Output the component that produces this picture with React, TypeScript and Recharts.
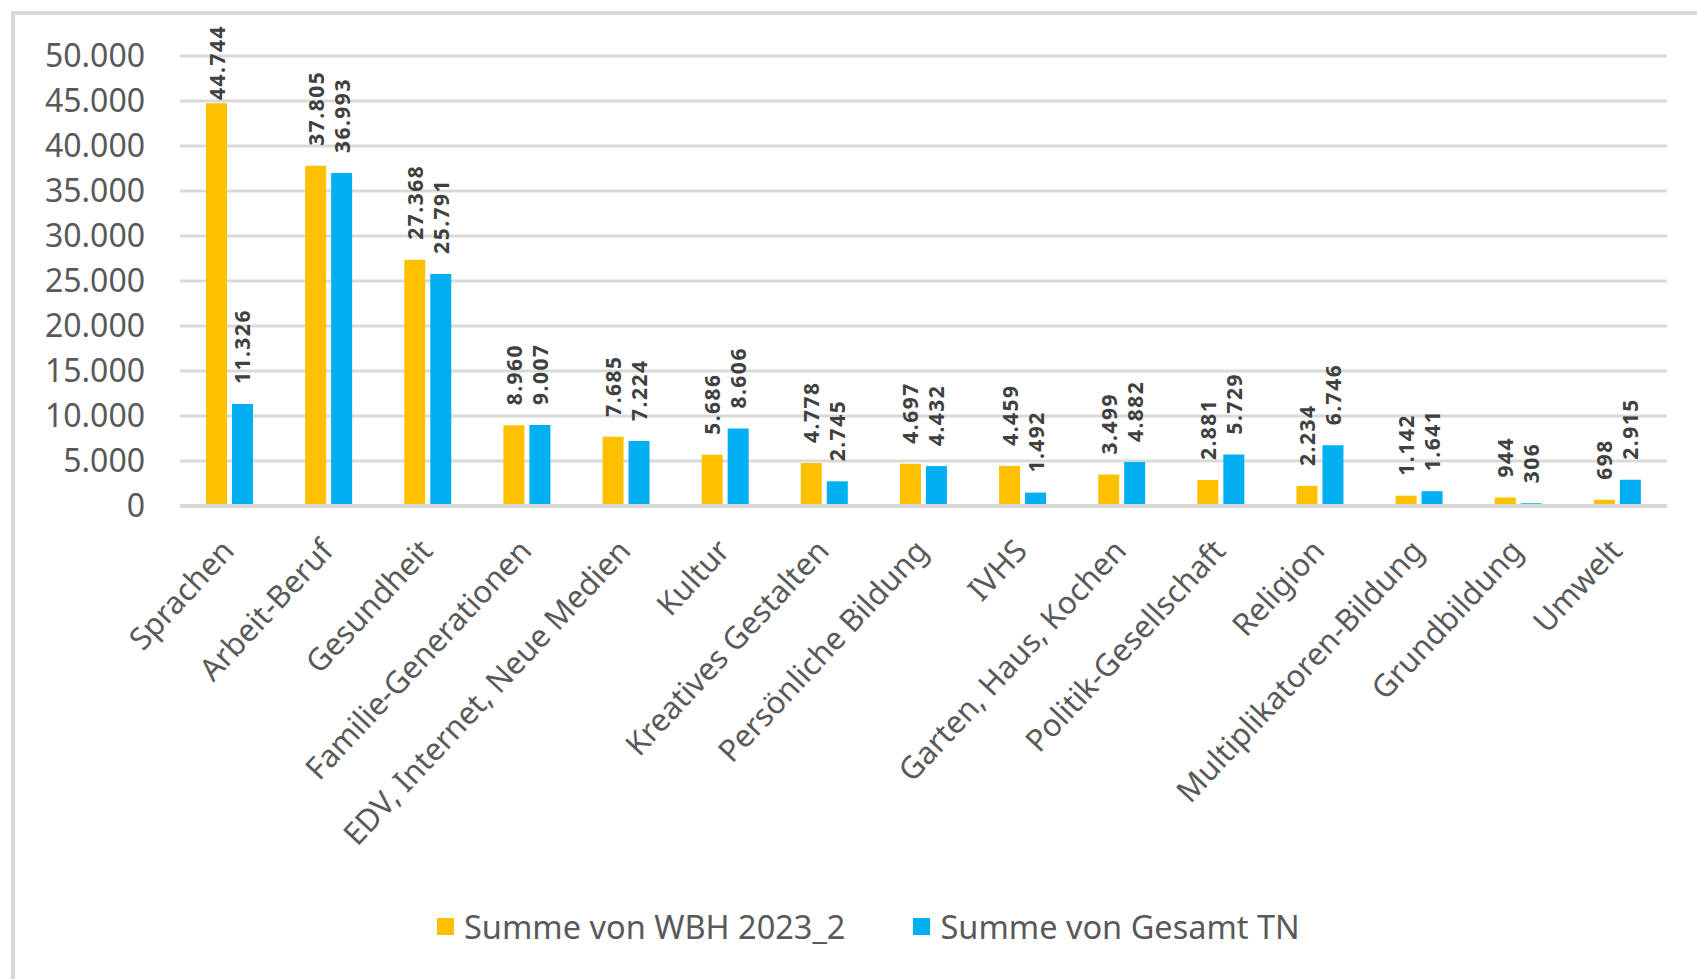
import { Bar, BarChart, CartesianGrid, LabelList, Legend, XAxis, YAxis } from "recharts";

const categories = [
  "Sprachen",
  "Arbeit-Beruf",
  "Gesundheit",
  "Familie-Generationen",
  "EDV, Internet, Neue Medien",
  "Kultur",
  "Kreatives Gestalten",
  "Persönliche Bildung",
  "IVHS",
  "Garten, Haus, Kochen",
  "Politik-Gesellschaft",
  "Religion",
  "Multiplikatoren-Bildung",
  "Grundbildung",
  "Umwelt",
];
const wbh2023 = [44744, 37805, 27368, 8960, 7685, 5686, 4778, 4697, 4459, 3499, 2881, 2234, 1142, 944, 698];
const gesamtTN = [11326, 36993, 25791, 9007, 7224, 8606, 2745, 4432, 1492, 4882, 5729, 6746, 1641, 306, 2915];
const yTicks = [0, 5000, 10000, 15000, 20000, 25000, 30000, 35000, 40000, 45000, 50000];

const seriesNames = ["Summe von WBH 2023_2", "Summe von Gesamt TN"];
const colors = ["#FFC000", "#00B0F0"];

const data = categories.map((name, i) => ({ name, wbh: wbh2023[i], tn: gesamtTN[i] }));

const FONT = "'Noto Sans', sans-serif";

// German thousands separator: 44744 -> 44.744
function fmt(v: number) {
  return String(v).replace(/\B(?=(\d{3})+(?!\d))/g, ".");
}

function CategoryTick(props: any) {
  const { x, y, payload } = props;
  return (
    <g transform={`translate(${x - 10},${y + 23})`}>
      <text
        x={0}
        y={0}
        dy="0.72em"
        textAnchor="end"
        transform="rotate(-47)"
        fontSize={31}
        fontFamily={FONT}
        fill="#595959"
      >
        {payload.value}
      </text>
    </g>
  );
}

function ValueLabel(props: any) {
  const { x, y, width, value } = props;
  const cx = x + width / 2;
  const ty = Math.max(y - 20, 100);
  return (
    <text
      x={cx}
      y={ty}
      transform={`rotate(-90, ${cx}, ${ty})`}
      textAnchor="start"
      dominantBaseline="central"
      fontSize={21}
      letterSpacing={1.5}
      fontWeight="bold"
      fontFamily={FONT}
      fill="#404040"
    >
      {fmt(value)}
    </text>
  );
}

function LegendBox() {
  return (
    <div style={{ display: "flex", alignItems: "center", fontFamily: FONT, fontSize: 32.5, color: "#595959" }}>
      {seriesNames.map((n, i) => (
        <div key={n} style={{ display: "flex", alignItems: "center", marginRight: i === 0 ? 68 : 0 }}>
          <span style={{ width: 17, height: 17, background: colors[i], marginRight: 10, display: "inline-block" }} />
          <span>{n}</span>
        </div>
      ))}
    </div>
  );
}

export default function App() {
  return (
    <div style={{ position: "absolute", left: 0, top: 0, width: 1697, height: 979, overflow: "hidden", background: "#fff" }}>
      <div
        style={{
          position: "absolute",
          left: 11,
          top: 11,
          width: 1720,
          height: 1020,
          border: "4px solid #d9d9d9",
          boxSizing: "border-box",
        }}
      />
      <div style={{ position: "absolute", left: 0, top: 0 }}>
        <BarChart
          width={1697}
          height={979}
          data={data}
          margin={{ top: 56, right: 30, left: 0, bottom: 73 }}
          barSize={21}
          barGap={5}
        >
          <CartesianGrid vertical={false} stroke="#d9d9d9" strokeWidth={3} />
          <XAxis
            dataKey="name"
            interval={0}
            height={400}
            tick={<CategoryTick />}
            tickLine={false}
            axisLine={{ stroke: "#d9d9d9", strokeWidth: 4 }}
          />
          <YAxis
            width={180}
            domain={[0, 50000]}
            ticks={yTicks}
            tickFormatter={fmt}
            tickSize={0}
            tickMargin={35}
            axisLine={false}
            tickLine={false}
            tick={{ fontSize: 32, fill: "#595959", fontFamily: FONT }}
          />
          <Legend
            verticalAlign="middle"
            align="center"
            wrapperStyle={{ top: 904, left: 437, width: "auto" }}
            content={<LegendBox />}
          />
          <Bar dataKey="wbh" name={seriesNames[0]} fill={colors[0]} isAnimationActive={false}>
            <LabelList dataKey="wbh" content={<ValueLabel />} />
          </Bar>
          <Bar dataKey="tn" name={seriesNames[1]} fill={colors[1]} isAnimationActive={false}>
            <LabelList dataKey="tn" content={<ValueLabel />} />
          </Bar>
        </BarChart>
      </div>
    </div>
  );
}
